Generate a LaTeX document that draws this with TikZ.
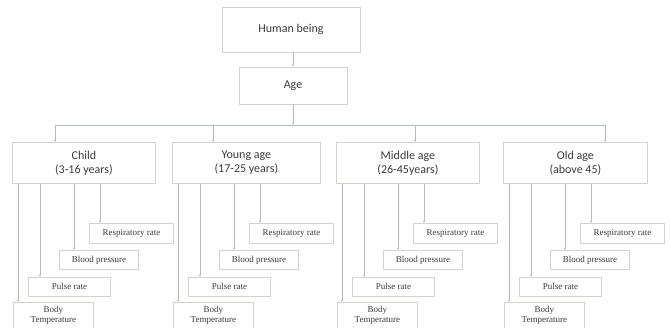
\documentclass[tikz,border=0pt]{standalone}
\usepackage{fontspec}
\setmainfont{Carlito}
\newfontfamily\leaffont{Liberation Serif}
\usetikzlibrary{arrows.meta}
\definecolor{boxgray}{HTML}{D0D4CC}
\definecolor{linegray}{HTML}{B2BAC6}
\definecolor{txtgray}{HTML}{3A3A3A}
\tikzset{
  topbox/.style={draw=boxgray, line width=0.8pt, text=txtgray, align=center,
    font=\fontsize{12}{14}\selectfont, inner sep=0pt},
  leafbox/.style={draw=boxgray, line width=0.8pt, text=txtgray, align=center,
    font=\leaffont\fontsize{9}{10}\selectfont, inner sep=0pt, anchor=north west},
  link/.style={draw=linegray, line width=0.6pt, -{Stealth[length=2.5pt, width=2.2pt]}},
}
\begin{document}
\begin{tikzpicture}[x=1pt, y=-1pt]
      \useasboundingbox (0,0) rectangle (670,327);

      \node[topbox, minimum width=138pt, minimum height=45pt] (human) at (291,29.5) {Human being};
      \node[topbox, minimum width=108pt, minimum height=37pt] (age) at (293,85.5) {Age};
      \draw[link] (human.south -| age.north) -- (age.north);

      % age groups
      \node[topbox, anchor=north west, minimum width=143pt, minimum height=41pt] (child) at (12,142) {Child\\(3-16 years)};
      \node[topbox, anchor=north west, minimum width=148pt, minimum height=41pt] (young) at (172,142) {Young age\\(17-25 years)};
      \node[topbox, anchor=north west, minimum width=143pt, minimum height=41pt] (middle) at (336,142) {Middle age\\(26-45years)};
      \node[topbox, anchor=north west, minimum width=144pt, minimum height=41pt] (old) at (503,142) {Old age\\(above 45)};

      \coordinate (bus) at (293,125);
      \coordinate (childin) at (55,142);
      \coordinate (youngin) at (213,142);
      \coordinate (middlein) at (415,142);
      \coordinate (oldin) at (605,142);
      \draw[link] (age.south) -- (bus);
      \draw[link] (bus) -| (childin);
      \draw[link] (bus) -| (youngin);
      \draw[link] (bus) -| (middlein);
      \draw[link] (bus) -| (oldin);

      % vital signs under every group
      \foreach \cat/\L in {child/12, young/172, middle/336, old/503} {
        \node[leafbox, minimum width=84pt, minimum height=20pt] (\cat-resp) at (\L+77,223) {Respiratory rate};
        \node[leafbox, minimum width=79pt, minimum height=19pt] (\cat-blood) at (\L+47,250) {Blood pressure};
        \node[leafbox, minimum width=82pt, minimum height=19pt] (\cat-pulse) at (\L+16,277) {Pulse rate};
        \node[leafbox, minimum width=80pt, minimum height=26pt] (\cat-body) at (\L+1,302) {Body\\Temperature};

        \coordinate (\cat-respin) at (\L+88,223);
        \coordinate (\cat-bloodin) at (\L+62,250);
        \coordinate (\cat-pulsein) at (\L+28,277);
        \coordinate (\cat-bodyin) at (\L+6,302);
        \draw[link] (\cat.south -| \cat-respin) -- (\cat-respin);
        \draw[link] (\cat.south -| \cat-bloodin) -- (\cat-bloodin);
        \draw[link] (\cat.south -| \cat-pulsein) -- (\cat-pulsein);
        \draw[link] (\cat.south -| \cat-bodyin) -- (\cat-bodyin);
      }
    \end{tikzpicture}
\end{document}
